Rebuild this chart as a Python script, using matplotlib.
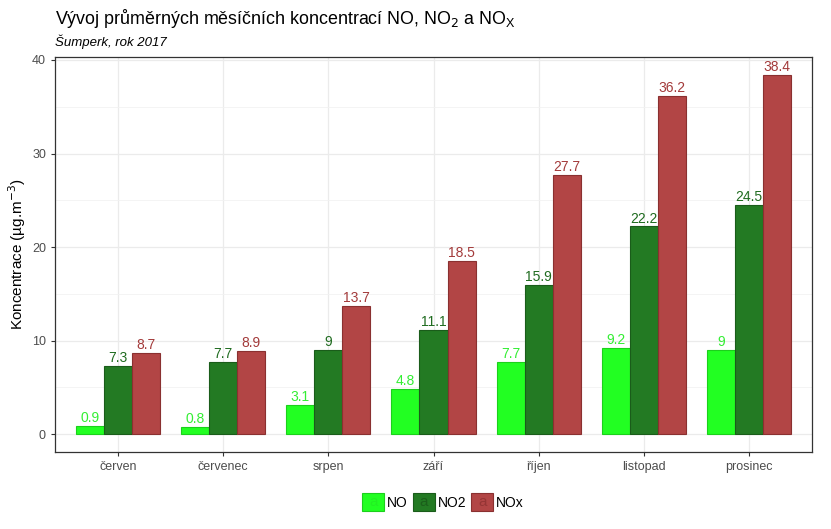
import numpy as np
import matplotlib.pyplot as plt
from matplotlib.patches import Patch, Rectangle
from matplotlib.legend_handler import HandlerPatch
from matplotlib.text import Text

plt.rcParams['font.family'] = ['Liberation Sans', 'DejaVu Sans']

# data
months = ['červen', 'červenec', 'srpen', 'září', 'říjen', 'listopad', 'prosinec']
no = [0.9, 0.8, 3.1, 4.8, 7.7, 9.2, 9.0]
no2 = [7.3, 7.7, 9.0, 11.1, 15.9, 22.2, 24.5]
nox = [8.7, 8.9, 13.7, 18.5, 27.7, 36.2, 38.4]
series = ['NO', 'NO2', 'NOx']

fills = ['#22ff22', '#237a23', '#b24545']
edges = ['#1cd01c', '#1a5c1a', '#8a3030']
txtcol = ['#33ee33', '#1f6b1f', '#a33a3a']
acol = ['#22f022', '#1b5e1b', '#953535']


class HandlerA(HandlerPatch):
    # legend key with the little "a" ggplot leaves in it
    def create_artists(self, legend, orig_handle, xdescent, ydescent, width, height, fontsize, trans):
        r = Rectangle((-xdescent, -ydescent), width, height,
                      facecolor=orig_handle.get_facecolor(), edgecolor=orig_handle.get_edgecolor(),
                      linewidth=0.8, transform=trans)
        t = Text(-xdescent+width/2, -ydescent+height/2, 'a', ha='center', va='center',
                 color=orig_handle.acol, fontsize=fontsize*1.1, transform=trans)
        return [r, t]


fig = plt.figure(figsize=(8.31, 5.29), dpi=100)
ax = fig.add_axes([55/831, 1-452/529, 757/831, 395/529])

x = np.arange(1, len(months)+1)
w = 0.8/3
for i, vals in enumerate([no, no2, nox]):
    xs = x + (i-1)*w
    ax.bar(xs, vals, width=w, color=fills[i], edgecolor=edges[i], linewidth=0.8, zorder=3)
    for xx, v in zip(xs, vals):
        lab = '{:g}'.format(v)
        ax.text(xx, v+0.1, lab, ha='center', va='bottom', color=txtcol[i], fontsize=10, zorder=4)

ax.set_xlim(0.4, 7.6)
ax.set_ylim(-1.92, 40.32)
ax.set_xticks(x)
ax.set_xticklabels(months)
ax.set_yticks([0, 10, 20, 30, 40])
ax.set_yticks([5, 15, 25, 35], minor=True)
ax.grid(True, which='major', color='#ebebeb', linewidth=0.9, zorder=0)
ax.grid(True, which='minor', axis='y', color='#f2f2f2', linewidth=0.6, zorder=0)
ax.tick_params(axis='both', which='major', colors='#333333', labelcolor='#4d4d4d', labelsize=9, length=3)
ax.tick_params(axis='y', which='minor', length=0)
for s in ax.spines.values():
    s.set_color('#333333')
    s.set_linewidth(0.9)

ax.set_ylabel('Koncentrace (µg.m$^{-3}$)', fontsize=11, labelpad=3)

fig.text(55/831, 1-18/529, 'Vývoj průměrných měsíčních koncentrací NO, NO$_2$ a NO$_\\mathregular{X}$',
         fontsize=12.9, va='center', ha='left')
fig.text(55/831, 1-42/529, 'Šumperk, rok 2017', fontsize=9.5, style='italic', va='center', ha='left')

handles = []
for i in range(3):
    p = Patch(facecolor=fills[i], edgecolor=edges[i])
    p.acol = acol[i]
    handles.append(p)
fig.legend(handles, series, loc='center', bbox_to_anchor=(443/831, 1-502/529), ncol=3, frameon=False,
           fontsize=10, handlelength=1.6, handleheight=1.6, handletextpad=0.2, columnspacing=0.35,
           handler_map={Patch: HandlerA()})

fig.savefig('out.png', dpi=100)
